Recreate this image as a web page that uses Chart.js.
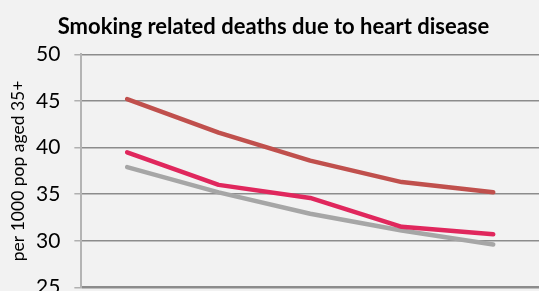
<!DOCTYPE html>
<html>
<head>
<meta charset="utf-8">
<script src="https://cdn.jsdelivr.net/npm/chart.js@4"></script>
<style>
  html, body { margin: 0; padding: 0; background: #f2f2f2; overflow: hidden; }
  #wrap { position: relative; width: 539px; height: 321px; }
</style>
</head>
<body>
<div id="wrap"><canvas id="chart"></canvas></div>
<script>
// Categories are cut off below the visible area of the picture
const years = ['2006', '2007', '2008', '2009', '2010'];
const seriesA = [45.2, 41.6, 38.6, 36.3, 35.2];
const seriesB = [39.5, 36.0, 34.6, 31.5, 30.7];
const seriesC = [37.9, 35.2, 32.9, 31.1, 29.6];
const yTicks = [25, 30, 35, 40, 45, 50];

const ctx = document.getElementById('chart').getContext('2d');

const makeLine = (label, data, colour) => ({
    label: label,
    data: data,
    borderColor: colour,
    backgroundColor: colour,
    borderWidth: 4.5,
    borderCapStyle: 'round',
    borderJoinStyle: 'round',
    pointRadius: 0,
    tension: 0,
    fill: false
});

new Chart(ctx, {
    type: 'line',
    data: {
        labels: years,
        datasets: [
            makeLine('Series A', seriesA, '#c0504d'),
            makeLine('Series B', seriesB, '#e0275d'),
            makeLine('Series C', seriesC, '#a6a6a6')
        ]
    },
    options: {
        responsive: true,
        maintainAspectRatio: false,
        animation: false,
        layout: { padding: { top: 14, left: 8, right: 0, bottom: 0 } },
        plugins: {
            legend: { display: false },
            tooltip: { enabled: false },
            title: {
                display: true,
                text: 'Smoking related deaths due to heart disease',
                color: '#000',
                font: { family: 'Lato', size: 22, weight: 'bold' },
                padding: { top: 0, bottom: 14 }
            }
        },
        scales: {
            x: {
                offset: true,
                grid: { display: false, drawTicks: false },
                border: { color: '#8c8c8c', width: 2 },
                ticks: { color: '#000', font: { family: 'Lato', size: 18 }, padding: 6 }
            },
            y: {
                min: 25,
                max: 50,
                afterBuildTicks: axis => { axis.ticks = yTicks.map(v => ({ value: v })); },
                grid: { color: '#8c8c8c', lineWidth: 1.5, tickLength: 7, tickColor: '#b0b0b0' },
                border: { color: '#b4b4b4', width: 2 },
                ticks: { color: '#000', font: { family: 'Lato', size: 21 }, padding: 14 },
                title: {
                    display: true,
                    text: 'per 1000 pop aged 35+',
                    color: '#000',
                    font: { family: 'Lato', size: 17.5 },
                    padding: { top: 0, bottom: -7 }
                }
            }
        }
    }
});
</script>
</body>
</html>
